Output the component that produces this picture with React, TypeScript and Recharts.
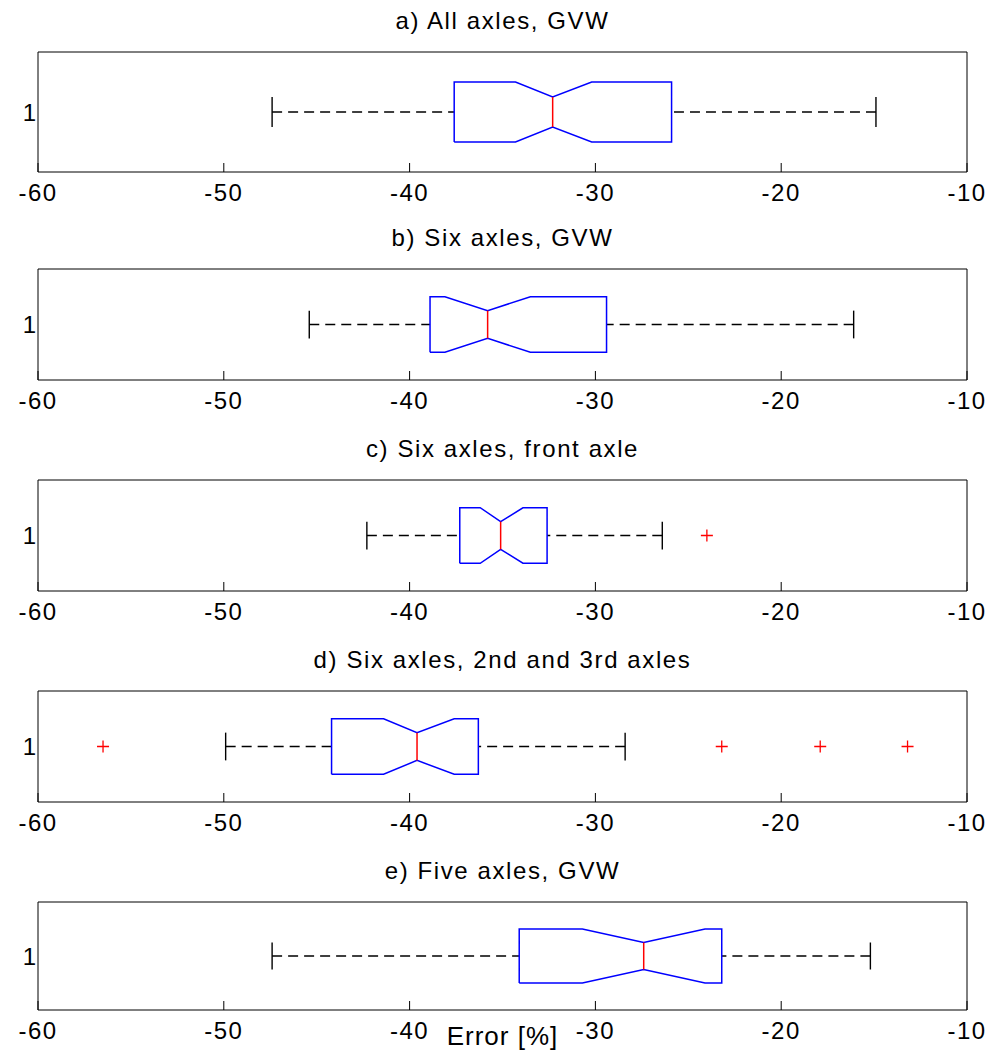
import React from 'react';
import { ComposedChart, Line, Scatter, XAxis, YAxis, Label } from 'recharts';

// ---- data ----
const titles = [
  'a) All axles, GVW',
  'b) Six axles, GVW',
  'c) Six axles, front axle',
  'd) Six axles, 2nd and 3rd axles',
  'e) Five axles, GVW',
];
const whiskerLow = [-47.4, -45.4, -42.3, -49.9, -47.4];
const q1 = [-37.6, -38.9, -37.3, -44.2, -34.1];
const notchLow = [-34.3, -38.1, -36.2, -41.4, -30.7];
const median = [-32.3, -35.8, -35.1, -39.6, -27.4];
const notchHigh = [-30.2, -33.5, -33.9, -37.6, -24.1];
const q3 = [-25.9, -29.4, -32.6, -36.3, -23.2];
const whiskerHigh = [-14.9, -16.1, -26.4, -28.4, -15.2];
const outliers: number[][] = [[], [], [-24.0], [-56.5, -23.2, -17.9, -13.2], []];
const xTicks = [-60, -50, -40, -30, -20, -10];
const yTicks = [1];
const xLabel = 'Error [%]';

// ---- layout ----
const W = 989;
const plotTops = [52, 269, 480, 691, 902];
const plotHeights = [120, 111, 111, 111, 108];
const PLOT_TOP_IN_CHART = 50;
const BOTTOM_AXIS_H = 44;
const BOTTOM_PAD = 6;
const BOX_HALF = 0.25;
const NOTCH_HALF = 0.125;
const CAP_HALF = 0.125;
const FONT = '"Liberation Sans", Arial, Helvetica, sans-serif';
const xTickStyle = { fontSize: 24, fill: '#000', fontFamily: FONT, letterSpacing: 1.5 };
const yTickStyle = { fontSize: 24, fill: '#000', fontFamily: FONT };

const Plus = (props: any) => {
  const { cx, cy } = props;
  if (cx == null || cy == null) return null;
  return (
    <path
      d={`M${cx - 6},${cy}H${cx + 6}M${cx},${cy - 6}V${cy + 6}`}
      stroke="#ff0000"
      strokeWidth={1.3}
      fill="none"
    />
  );
};

function Panel({ i }: { i: number }) {
  const plotH = plotHeights[i];
  const height = PLOT_TOP_IN_CHART + plotH + BOTTOM_AXIS_H + BOTTOM_PAD;
  const top = plotTops[i] - PLOT_TOP_IN_CHART;
  const lo = 1 - BOX_HALF;
  const hi = 1 + BOX_HALF;
  const boxData = [
    { x: q1[i], y: lo },
    { x: notchLow[i], y: lo },
    { x: median[i], y: 1 - NOTCH_HALF },
    { x: notchHigh[i], y: lo },
    { x: q3[i], y: lo },
    { x: q3[i], y: hi },
    { x: notchHigh[i], y: hi },
    { x: median[i], y: 1 + NOTCH_HALF },
    { x: notchLow[i], y: hi },
    { x: q1[i], y: hi },
    { x: q1[i], y: lo },
  ];
  const medianData = [
    { x: median[i], y: 1 - NOTCH_HALF },
    { x: median[i], y: 1 + NOTCH_HALF },
  ];
  const whiskerLeft = [
    { x: whiskerLow[i], y: 1 },
    { x: q1[i], y: 1 },
  ];
  const whiskerRight = [
    { x: whiskerHigh[i], y: 1 },
    { x: q3[i], y: 1 },
  ];
  const capLeft = [
    { x: whiskerLow[i], y: 1 - CAP_HALF },
    { x: whiskerLow[i], y: 1 + CAP_HALF },
  ];
  const capRight = [
    { x: whiskerHigh[i], y: 1 - CAP_HALF },
    { x: whiskerHigh[i], y: 1 + CAP_HALF },
  ];
  const outlierData = outliers[i].map((x) => ({ x, y: 1 }));
  const isLast = i === titles.length - 1;

  return (
    <div style={{ position: 'absolute', left: 0, top, width: W, height }}>
      <ComposedChart
        width={W}
        height={height}
        margin={{ top: PLOT_TOP_IN_CHART - 1, right: 21, left: 0, bottom: BOTTOM_PAD }}
      >
        <XAxis
          xAxisId="top"
          orientation="top"
          type="number"
          domain={[-60, -10]}
          ticks={xTicks}
          interval={0}
          height={1}
          tick={false}
          tickSize={-9}
          tickLine={{ stroke: '#000' }}
          axisLine={{ stroke: '#000' }}
        >
          <Label
            value={titles[i]}
            position="top"
            offset={22}
            style={{ fontSize: 24, fill: '#000', fontFamily: FONT, letterSpacing: 1.6 }}
          />
        </XAxis>
        <XAxis
          dataKey="x"
          orientation="bottom"
          type="number"
          domain={[-60, -10]}
          ticks={xTicks}
          interval={0}
          height={BOTTOM_AXIS_H}
          tickSize={-9}
          tickMargin={21}
          tickLine={{ stroke: '#000' }}
          axisLine={{ stroke: '#000' }}
          tick={xTickStyle}
        >
          {isLast ? (
            <Label
              value={xLabel}
              position="insideBottom"
              offset={9}
              style={{ fontSize: 26, fill: '#000', fontFamily: FONT, letterSpacing: 1 }}
            />
          ) : null}
        </XAxis>
        <YAxis
          dataKey="y"
          type="number"
          domain={[0.5, 1.5]}
          ticks={yTicks}
          interval={0}
          width={38}
          tickLine={false}
          tickSize={0}
          tickMargin={2}
          axisLine={{ stroke: '#000' }}
          tick={yTickStyle}
        />
        <YAxis
          yAxisId="right"
          orientation="right"
          type="number"
          domain={[0.5, 1.5]}
          width={1}
          tick={false}
          tickLine={false}
          axisLine={{ stroke: '#000' }}
        />
        <Line
          data={whiskerLeft}
          dataKey="y"
          stroke="#000"
          strokeWidth={1.4}
          strokeDasharray="10 6"
          dot={false}
          activeDot={false}
          isAnimationActive={false}
          type="linear"
        />
        <Line
          data={whiskerRight}
          dataKey="y"
          stroke="#000"
          strokeWidth={1.4}
          strokeDasharray="10 6"
          dot={false}
          activeDot={false}
          isAnimationActive={false}
          type="linear"
        />
        <Line
          data={capLeft}
          dataKey="y"
          stroke="#000"
          strokeWidth={1.4}
          dot={false}
          activeDot={false}
          isAnimationActive={false}
          type="linear"
        />
        <Line
          data={capRight}
          dataKey="y"
          stroke="#000"
          strokeWidth={1.4}
          dot={false}
          activeDot={false}
          isAnimationActive={false}
          type="linear"
        />
        <Line
          data={boxData}
          dataKey="y"
          stroke="#0000ff"
          strokeWidth={1.5}
          dot={false}
          activeDot={false}
          isAnimationActive={false}
          type="linear"
        />
        <Line
          data={medianData}
          dataKey="y"
          stroke="#ff0000"
          strokeWidth={1.5}
          dot={false}
          activeDot={false}
          isAnimationActive={false}
          type="linear"
        />
        <Scatter data={outlierData} dataKey="y" shape={Plus} isAnimationActive={false} />
      </ComposedChart>
    </div>
  );
}

export default function App() {
  return (
    <div
      style={{
        position: 'absolute',
        left: 0,
        top: 0,
        width: W,
        height: 1054,
        background: '#fff',
        overflow: 'hidden',
      }}
    >
      {titles.map((_, i) => (
        <Panel key={i} i={i} />
      ))}
    </div>
  );
}
